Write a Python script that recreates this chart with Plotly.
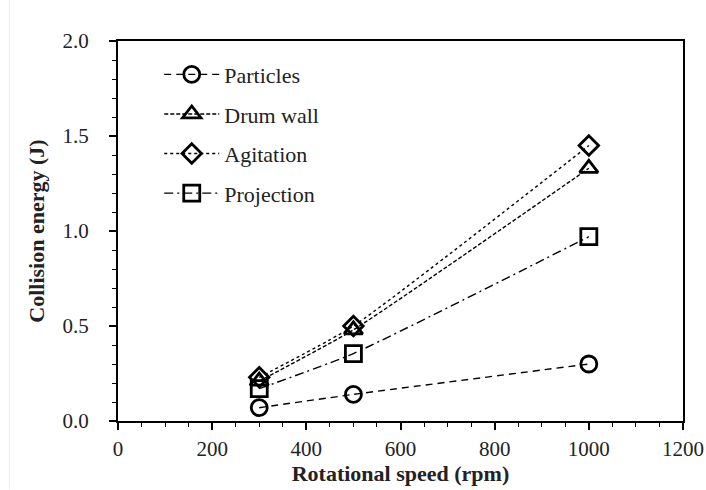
import plotly.graph_objects as go

speed = [300, 500, 1000]
particles = [0.07, 0.14, 0.30]
drum_wall = [0.21, 0.48, 1.33]
agitation = [0.23, 0.50, 1.45]
projection = [0.17, 0.355, 0.97]

series = [
    ("Particles", particles, "circle-open", "7px,5px", 16),
    ("Drum wall", drum_wall, "triangle-up-open", "4px,2px", 16),
    ("Agitation", agitation, "diamond-open", "dot", 15),
    ("Projection", projection, "square-open", "9px,4px,2px,4px", 16),
]

fig = go.Figure()
for name, vals, sym, dash, size in series:
    fig.add_trace(go.Scatter(
        x=speed, y=vals, name=name, mode="lines+markers", legendgroup=name,
        line=dict(color="black", width=1.4, dash=dash, shape="spline", smoothing=0.5),
        marker=dict(symbol=sym, size=size, color="black", line=dict(width=2.8, color="black")),
    ))

font = "Liberation Serif"
fig.update_layout(
    width=706, height=490,
    margin=dict(l=118, r=23, t=41, b=69, autoexpand=False),
    paper_bgcolor="white", plot_bgcolor="white",
    font=dict(family=font, size=21, color="#222"),
    showlegend=True,
    legend=dict(x=0.073, y=0.967, xanchor="left", yanchor="top",
                bgcolor="rgba(0,0,0,0)", font=dict(family=font, size=22, color="#222"),
                tracegroupgap=8, itemwidth=55),
)
fig.update_xaxes(
    range=[0, 1200], dtick=200, showgrid=False, zeroline=False, automargin=False,
    showline=True, linecolor="black", linewidth=2, mirror=True,
    ticks="outside", ticklen=7, tickwidth=1.5, tickcolor="black",
    minor=dict(dtick=50, ticks="outside", ticklen=4, tickwidth=1, tickcolor="black"),
    title=dict(text="<b>Rotational speed (rpm)</b>", font=dict(size=22, family=font, color="#222"), standoff=1),
    tickfont=dict(size=21, family=font, color="#222"),
    ticklabelstandoff=1,
)
fig.update_yaxes(
    range=[0, 2.0], dtick=0.5, tickformat=".1f", showgrid=False, zeroline=False, automargin=False,
    showline=True, linecolor="black", linewidth=2, mirror=True,
    ticks="outside", ticklen=7, tickwidth=1.5, tickcolor="black",
    minor=dict(dtick=0.1, ticks="outside", ticklen=4, tickwidth=1, tickcolor="black"),
    title=dict(text="<b>Collision energy (J)</b>", font=dict(size=22, family=font, color="#222"), standoff=12),
    tickfont=dict(size=21, family=font, color="#222"),
    ticklabelstandoff=16,
)
fig.add_shape(type="line", xref="paper", yref="paper", x0=-0.192, x1=-0.192, y0=-0.18, y1=1.11,
              line=dict(color="#eeeeee", width=1))
fig.write_html("out.html")
